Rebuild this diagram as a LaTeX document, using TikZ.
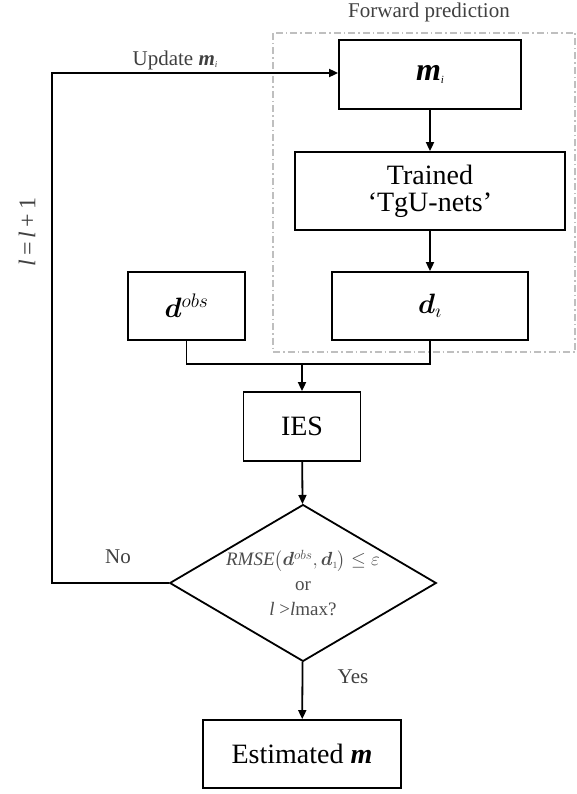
\RequirePackage{fix-cm}
\documentclass[tikz,border=0pt]{standalone}
\usepackage{amsmath,bm}
\usepackage{fontspec}
\setmainfont{Liberation Serif}
\usetikzlibrary{arrows.meta,shapes.geometric}
\newcommand{\bim}{{\bfseries\itshape m}}
\begin{document}
\begin{tikzpicture}[x=1pt,y=-1pt,
  box/.style={draw,line width=1.8pt,rectangle,inner sep=0pt,align=center,font=\fontsize{28}{30}\selectfont},
  flow/.style={line width=1.8pt,-{Triangle[length=9pt,width=8pt]}},
  wire/.style={line width=1.8pt},
  lbl/.style={font=\fontsize{21}{24}\selectfont,text=black!75}]
\useasboundingbox (0,0) rectangle (576,794);

% forward prediction frame
\draw[black!25,line width=1.2pt,dash pattern=on 7pt off 3pt on 1.5pt off 3pt]
  (273,33) rectangle (575,352);
\node[lbl] (fwd) at (429,12) {Forward prediction};

% boxes
\node[box,minimum width=182pt,minimum height=69pt] (mi) at (430,74.5)
  {\fontsize{32}{34}\selectfont\bim\raisebox{-3pt}{\fontsize{11}{12}\selectfont\itshape i}};
\node[box,minimum width=270pt,minimum height=78pt] (tr) at (430,191) {Trained\\[-3pt]`TgU-nets'};
\node[box,minimum width=196pt,minimum height=68pt] (di) at (430,306) {$\bm{d}_{\imath}$};
\node[box,minimum width=117pt,minimum height=68pt] (dobs) at (186.5,306) {$\bm{d}^{obs}$};
\node[box,minimum width=117pt,minimum height=69pt] (ies) at (302,426.5) {IES};
\node[draw,line width=1.8pt,diamond,aspect=1.7,minimum width=264pt,minimum height=155pt,inner sep=0pt,
      align=center,font=\fontsize{19}{25}\selectfont,text=black!70] (dec) at (303,583)
  {$\mathit{RMSE}\bigl(\bm{d}^{obs},\bm{d}_{\scriptscriptstyle 1}\bigr)\le\varepsilon$\\or\\\textit{l} >\textit{l}max?};
\node[box,minimum width=198pt,minimum height=68pt] (est) at (302,754) {Estimated \bim};

% connectors
\coordinate (merge) at (302,364);
\coordinate (cl) at (52,583);
\coordinate (tl) at (52,73);
\draw[flow] (mi) -- (tr);
\draw[flow] (tr) -- (di);
\draw[wire] (dobs.south) |- (merge);
\draw[wire] (di.south) |- (merge);
\draw[flow] (merge) -- (ies);
\draw[flow] (ies) -- (dec);
\draw[flow] (dec) -- (est);
\draw[flow] (dec.west) -- (cl) -- (tl) -- (tl -| mi.west);

% labels
\node[lbl] (upd) at (175,60) {Update \bim\raisebox{-2pt}{\fontsize{9}{10}\selectfont\itshape i}};
\node[lbl] (no) at (118,557) {No};
\node[lbl] (yes) at (353,677) {Yes};
\node[lbl,font=\fontsize{24}{26}\selectfont,rotate=90] (inc) at (27,232) {\textit{l}\,=\,\textit{l}\,+\,1};
\end{tikzpicture}
\end{document}
